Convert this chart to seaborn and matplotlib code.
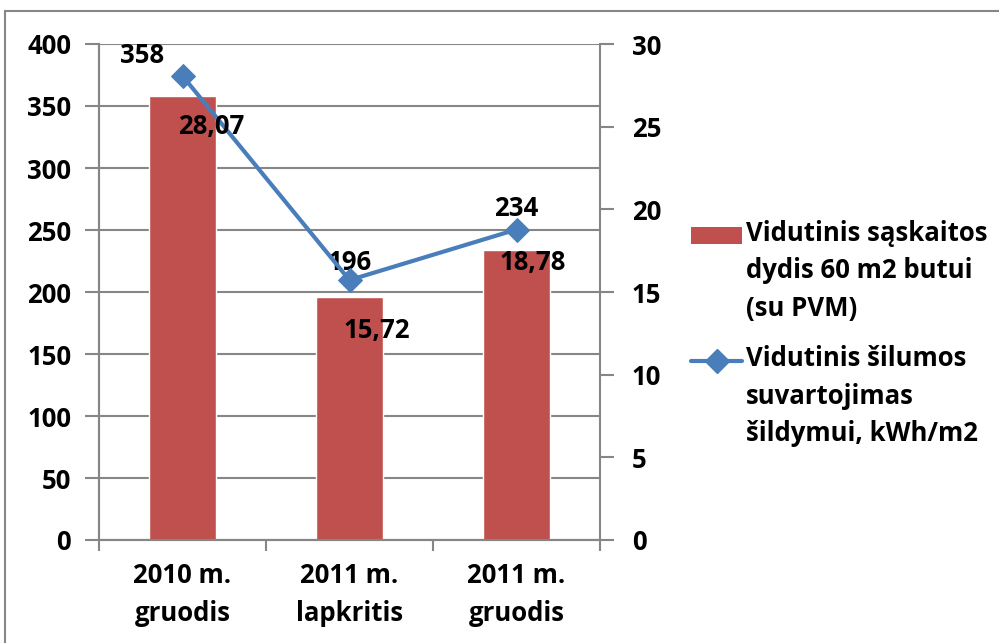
import numpy as np
import pandas as pd
import seaborn as sns
import matplotlib.pyplot as plt
from matplotlib.patches import Rectangle, Patch
from matplotlib.lines import Line2D
from matplotlib.legend_handler import HandlerPatch, HandlerLine2D

# data
categories = ['2010 m.\ngruodis', '2011 m.\nlapkritis', '2011 m.\ngruodis']
bill_values = [358, 196, 234]
heat_values = [28.07, 15.72, 18.78]
heat_labels = ['28,07', '15,72', '18,78']
bar_name = 'Vidutinis sąskaitos\ndydis 60 m2 butui\n(su PVM)'
line_name = 'Vidutinis šilumos\nsuvartojimas\nšildymui, kWh/m2'

bar_color = '#C0504D'
line_color = '#4A7EBB'
grid_color = '#868686'

sns.set_style('white')
plt.rcParams['font.family'] = ['Open Sans', 'DejaVu Sans']
plt.rcParams['font.weight'] = 'bold'
plt.rcParams['text.color'] = 'black'
plt.rcParams['xtick.color'] = 'black'
plt.rcParams['ytick.color'] = 'black'

fs = 18.5
line_shift = 26.5  # legend handles sit on the first text line, not the middle one


class UpPatch(HandlerPatch):
    def create_artists(self, legend, orig_handle, xdescent, ydescent, width, height, fontsize, trans):
        return super().create_artists(legend, orig_handle, xdescent, ydescent - line_shift,
                                      width, height, fontsize, trans)


class UpLine(HandlerLine2D):
    # line handler puts y at (height - ydescent) / 2, hence the doubled shift
    def create_artists(self, legend, orig_handle, xdescent, ydescent, width, height, fontsize, trans):
        return super().create_artists(legend, orig_handle, xdescent, ydescent - 2 * line_shift,
                                      width, height, fontsize, trans)


fig = plt.figure(figsize=(9.99, 6.43), dpi=100)
ax = fig.add_axes([99 / 999, 1 - 540 / 643, (600 - 99) / 999, (540 - 44) / 643])

df = pd.DataFrame({'cat': categories, 'bill': bill_values})
sns.barplot(data=df, x='cat', y='bill', color=bar_color, saturation=1, width=0.4, ax=ax)
ax.set_xlim(-0.5, 2.5)
ax.set_ylim(0, 400)
ax.set_yticks(np.arange(0, 401, 50))
ax.set_xlabel('')
ax.set_ylabel('')
ax.yaxis.grid(True, color=grid_color, linewidth=1.5)
ax.set_axisbelow(True)

ax2 = ax.twinx()
sns.lineplot(x=np.arange(len(heat_values)), y=heat_values, color=line_color, linewidth=3,
             marker='D', markersize=12, markeredgecolor=line_color, ax=ax2)
ax2.set_ylim(0, 30)
ax2.set_yticks(np.arange(0, 31, 5))
ax2.set_xlim(-0.5, 2.5)

for a in (ax, ax2):
    for s in a.spines.values():
        s.set_color(grid_color)
        s.set_linewidth(1.5)
    a.spines['top'].set_visible(False)
ax.spines['right'].set_visible(False)

ax.tick_params(axis='y', left=True, length=10, width=1.5, color=grid_color, pad=10,
               labelsize=fs, labelcolor='black')
ax2.tick_params(axis='y', right=True, length=10, width=1.5, color=grid_color, pad=13,
                labelsize=fs, labelcolor='black')
ax.set_xticks(range(len(categories)))
ax.set_xticklabels(categories, fontsize=fs, linespacing=1.5, color='black')
ax.set_xticks([-0.5, 0.5, 1.5, 2.5], minor=True)
ax.tick_params(axis='x', which='major', bottom=False, length=0, pad=16)
ax.tick_params(axis='x', which='minor', bottom=True, length=8, width=1.5, color=grid_color)

# value labels
bar_offsets = [(-40, 41), (0, 34), (0, 41)]
line_offsets = [(29, -51), (27, -50), (16, -33)]
for i, v in enumerate(bill_values):
    ax.annotate(str(v), (i, v), xytext=bar_offsets[i], textcoords='offset pixels',
                ha='center', va='center', fontsize=fs, fontweight='bold', color='black')
for i, v in enumerate(heat_values):
    ax2.annotate(heat_labels[i], (i, v), xytext=line_offsets[i], textcoords='offset pixels',
                 ha='center', va='center', fontsize=fs, fontweight='bold', color='black',
                 zorder=5)

bar_handle = Patch(facecolor=bar_color, edgecolor='none')
line_handle = Line2D([], [], color=line_color, linewidth=3, marker='D', markersize=12)
leg = fig.legend([bar_handle, line_handle], [bar_name, line_name], loc='upper left',
                 bbox_to_anchor=(691 / 999, 1 - 220 / 643),
                 handler_map={Patch: UpPatch(), Line2D: UpLine()},
                 frameon=False, fontsize=fs, handlelength=2.0, handleheight=0.65,
                 handletextpad=0.15, borderpad=0, borderaxespad=0, labelspacing=0.9)
for t in leg.get_texts():
    t.set_linespacing(1.5)
    t.set_color('black')

fig.patches.append(Rectangle((5 / 999, -0.1), 1.2, 1.1 - 11 / 643, transform=fig.transFigure,
                             fill=False, edgecolor=grid_color, linewidth=1.5))

fig.savefig('out.png', dpi=100)
